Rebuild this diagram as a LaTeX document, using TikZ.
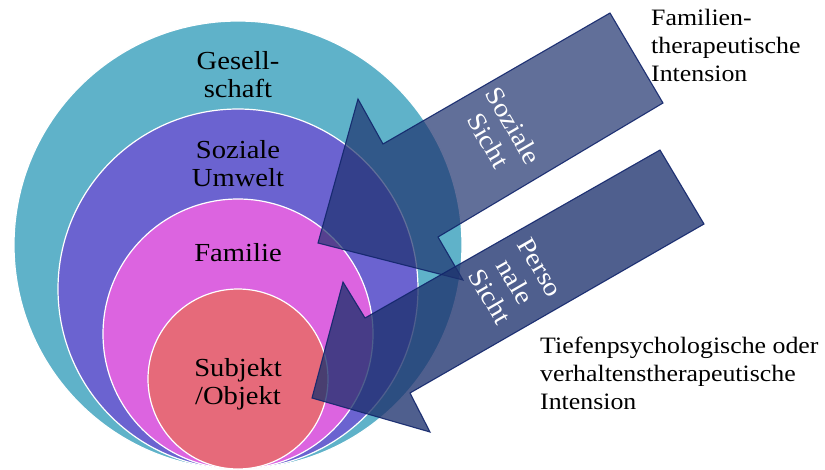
\documentclass[tikz,border=0pt]{standalone}
\usepackage{fontspec}
\setmainfont[FakeStretch=1.1]{Liberation Serif}
\usetikzlibrary{calc}
\definecolor{gesell}{RGB}{95,178,201}
\definecolor{umwelt}{RGB}{107,99,208}
\definecolor{familie}{RGB}{220,100,224}
\definecolor{subjekt}{RGB}{230,106,122}
\definecolor{sichtfill}{RGB}{30,50,110}
\definecolor{sichtline}{RGB}{18,38,108}
\tikzstyle{ring}=[draw=white,line width=1.2pt]
\tikzstyle{ringtext}=[align=center,inner sep=0pt,font=\fontsize{26}{28}\selectfont]
\tikzstyle{sicht}=[draw=sichtline,line width=1.1pt,fill=sichtfill,line join=miter,draw opacity=.9]
\tikzstyle{sichttext}=[align=center,inner sep=0pt,text=white,rotate=-60,font=\fontsize{26}{29}\selectfont]
\tikzstyle{intension}=[align=left,anchor=north west,inner sep=0pt,font=\fontsize{23.5}{27.8}\selectfont]

\begin{document}
\begin{tikzpicture}[x=1pt,y=-1pt]
	\useasboundingbox (0,0) rectangle (825,469);
	% circles, all touching at the bottom
	\filldraw[ring,fill=gesell]  (238,245) circle[radius=224pt];
	\filldraw[ring,fill=umwelt]  (238,289) circle[radius=180pt];
	\filldraw[ring,fill=familie] (238,334) circle[radius=135pt];
	\filldraw[ring,fill=subjekt] (238,379) circle[radius=90pt];
	\node[ringtext] (gesellschaft) at (238,75)  {Gesell-\\schaft};
	\node[ringtext] (umweltlabel)  at (238,164) {Soziale\\Umwelt};
	\node[ringtext] (familielabel) at (238,253) {Familie};
	\node[ringtext] (subjektlabel) at (238,384) {Subjekt\\/Objekt};
	% soziale Sicht
	\coordinate (soz-tip)    at (318,243);
	\coordinate (soz-barbA)  at (358,99);
	\coordinate (soz-notchA) at (383,144);
	\coordinate (soz-endA)   at (610,13);
	\coordinate (soz-endB)   at (663,103);
	\coordinate (soz-notchB) at (438,237);
	\coordinate (soz-barbB)  at (463,280);
	\draw[sicht,fill opacity=.7] (soz-tip) -- (soz-barbA) -- (soz-notchA) -- (soz-endA)
		-- (soz-endB) -- (soz-notchB) -- (soz-barbB) -- cycle;
	\node[sichttext] (soziale) at (501,133) {Soziale\\Sicht};
	% personale Sicht
	\coordinate (per-tip)    at (312,398);
	\coordinate (per-barbA)  at (343,282);
	\coordinate (per-notchA) at (365,318);
	\coordinate (per-endA)   at (660,150);
	\coordinate (per-endB)   at (704,224);
	\coordinate (per-notchB) at (410,393);
	\coordinate (per-barbB)  at (430,432);
	\draw[sicht,fill opacity=.78] (per-tip) -- (per-barbA) -- (per-notchA) -- (per-endA)
		-- (per-endB) -- (per-notchB) -- (per-barbB) -- cycle;
	\node[sichttext] (personale) at (515,282) {Perso\\nale\\Sicht};
	% Intensionen
	\node[intension] (familienth) at (651,9)   {Familien-\\therapeutische\\Intension};
	\node[intension] (tiefenpsy)  at (540,337) {Tiefenpsychologische oder\\verhaltenstherapeutische\\Intension};
\end{tikzpicture}
\end{document}
